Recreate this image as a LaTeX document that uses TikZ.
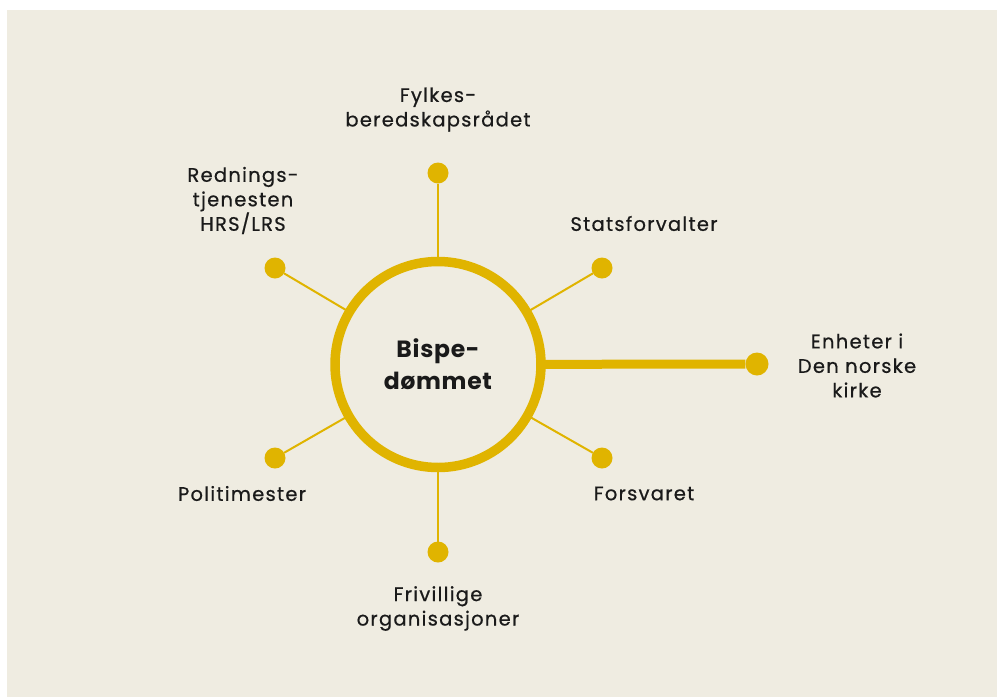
\documentclass[tikz,border=0pt]{standalone}
\usepackage{fontspec}
\setmainfont{Poppins}[LetterSpace=3]
\newfontfamily\lblfont{Poppins}[LetterSpace=6.5,FakeBold=0.6]
\definecolor{bgc}{HTML}{EFECE1}
\definecolor{gold}{HTML}{E0B400}
\definecolor{txt}{HTML}{1A1A1A}
\begin{document}
\begin{tikzpicture}[x=1pt,y=-1pt,
  hubstyle/.style={circle,draw=gold,line width=9.5pt,minimum size=206pt,inner sep=0pt,outer sep=0pt,
    font=\fontsize{23.5}{32}\selectfont\bfseries,text=txt,align=center},
  dot/.style={circle,fill=gold,minimum size=21pt,inner sep=0pt,outer sep=0pt},
  link/.style={draw=gold,line width=2pt},
  biglink/.style={draw=gold,line width=9pt},
  lbl/.style={align=center,inner sep=0pt,text=txt,font=\lblfont\fontsize{19.5}{24.5}\selectfont}
]
\useasboundingbox (0,0) rectangle (997,697);
\fill[bgc] (7,10) rectangle (997,697);
% connectors first
\node[dot] (dT) at (438,173) {};
\node[dot] (dUR) at (602,268) {};
\node[dot] (dLR) at (602,458) {};
\node[dot] (dB) at (438,552) {};
\node[dot] (dLL) at (275,458) {};
\node[dot] (dUL) at (275,268) {};
\node[circle,fill=gold,minimum size=23pt,inner sep=0pt] (dE) at (757,364) {};
\coordinate (c) at (438,364.5);
\draw[link] (c) -- (dT);
\draw[link] (c) -- (dUR);
\draw[link] (c) -- (dLR);
\draw[link] (c) -- (dB);
\draw[link] (c) -- (dLL);
\draw[link] (c) -- (dUL);
\draw[biglink] (c) -- (dE);
\node[hubstyle,fill=bgc] (hub) at (c) {Bispe-\\dømmet};
% labels
\node[lbl] (lT) at (438,109.5) {Fylkes-\\beredskapsrådet};
\node[lbl] (lUL) at (243,200.5) {Rednings-\\tjenesten\\HRS/LRS};
\node[lbl] (lUR) at (644,223.5) {Statsforvalter};
\node[lbl] (lE) at (857,365.5) {Enheter i\\Den norske\\kirke};
\node[lbl] (lLR) at (644,493.5) {Forsvaret};
\node[lbl] (lLL) at (242,493.5) {Politimester};
\node[lbl] (lB) at (438,608.5) {Frivillige\\organisasjoner};
\end{tikzpicture}
\end{document}
